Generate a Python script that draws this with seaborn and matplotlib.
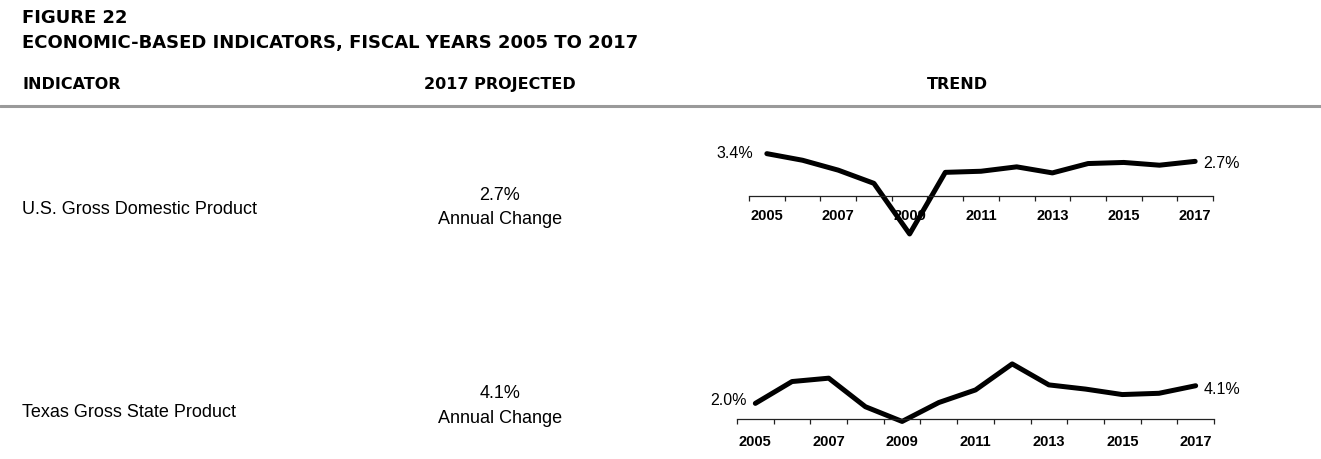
import matplotlib
matplotlib.use('Agg')
import matplotlib.pyplot as plt
import seaborn as sns
import numpy as np
import pandas as pd

sns.set_style('white')
plt.rcParams['font.family'] = ['Liberation Sans', 'DejaVu Sans']
plt.rcParams['text.color'] = 'black'

# data (annual % change, fiscal years)
years = [2005, 2006, 2007, 2008, 2009, 2010, 2011, 2012, 2013, 2014, 2015, 2016, 2017]
us_gdp = [3.4, 2.8, 1.9, 0.7, -3.9, 1.7, 1.8, 2.2, 1.65, 2.5, 2.6, 2.35, 2.7]
tx_gsp = [2.0, 4.6, 5.0, 1.6, -0.15, 2.1, 3.6, 6.7, 4.2, 3.7, 3.05, 3.2, 4.1]
tick_years = [2005, 2007, 2009, 2011, 2013, 2015, 2017]

indicators = ['U.S. Gross Domestic Product', 'Texas Gross State Product']
projected = ['2.7%', '4.1%']
first_lbl = ['3.4%', '2.0%']
last_lbl = ['2.7%', '4.1%']

W, H = 1321, 460
fig = plt.figure(figsize=(W / 100, H / 100), dpi=100)

heavy = ['DejaVu Sans']

def t(x, y, s, **kw):
    fig.text(x / W, 1 - y / H, s, color='black', **kw)

# header
t(22, 18, 'FIGURE 22', family=heavy, weight='bold', size=13, va='center')
t(22, 43, 'ECONOMIC-BASED INDICATORS, FISCAL YEARS 2005 TO 2017', family=heavy,
  weight='bold', size=13, va='center')
t(22, 85, 'INDICATOR', family=heavy, weight='bold', size=11.5, va='center')
t(500, 85, '2017 PROJECTED', family=heavy, weight='bold', size=11.5, va='center', ha='center')
t(957, 85, 'TREND', family=heavy, weight='bold', size=11.5, va='center', ha='center')
fig.add_artist(plt.Line2D([0, 1], [1 - 107 / H] * 2, color='#9a9a9a', lw=2.2))

# layout of each row, in pixels from the top
rows = [
    dict(name_y=210, pct_y=195, ac_y=220, left=749, right=1213, ay=197, ymin=-0.45, ppu=11.0,
         ymax=3.8, pad=9, off1=(-10, 1), off2=(6, -1)),
    dict(name_y=413, pct_y=394, ac_y=419, left=737, right=1214, ay=420, ymin=0.14, ppu=8.4,
         ymax=7.0, pad=10.5, off1=(-6, 3), off2=(6, -2)),
]
series = [us_gdp, tx_gsp]

for i, r in enumerate(rows):
    t(22, r['name_y'], indicators[i], size=13, va='center')
    t(500, r['pct_y'], projected[i], size=13, va='center', ha='center')
    t(500, r['ac_y'], 'Annual Change', size=13, va='center', ha='center')

    h = (r['ymax'] - r['ymin']) * r['ppu']
    ax = fig.add_axes([r['left'] / W, 1 - r['ay'] / H, (r['right'] - r['left']) / W, h / H])
    df = pd.DataFrame({'year': years, 'value': series[i]})
    sns.lineplot(data=df, x='year', y='value', ax=ax, color='black', lw=3.6, clip_on=False)
    ax.set_xlim(2004.5, 2017.5)
    ax.set_ylim(r['ymin'], r['ymax'])
    for s in ['top', 'right', 'left']:
        ax.spines[s].set_visible(False)
    ax.spines['bottom'].set_color('#222222')
    ax.spines['bottom'].set_linewidth(0.9)
    ax.set_yticks([])
    ax.set_xticks(tick_years)
    ax.set_xticklabels([str(y) for y in tick_years], weight='bold', size=10.5, color='black')
    ax.set_xticks(np.arange(2004.5, 2018, 1), minor=True)
    ax.tick_params(axis='x', which='major', length=0, pad=r['pad'])
    ax.tick_params(axis='x', which='minor', bottom=True, length=3.5, width=0.9, color='#222222')
    ax.set_xlabel('')
    ax.set_ylabel('')
    ax.patch.set_alpha(0)
    ax.annotate(first_lbl[i], (years[0], series[i][0]), xytext=r['off1'], textcoords='offset points',
                ha='right', va='center', size=11.5, color='black')
    ax.annotate(last_lbl[i], (years[-1], series[i][-1]), xytext=r['off2'], textcoords='offset points',
                ha='left', va='center', size=11.5, color='black')

fig.savefig('out.png', dpi=100)
